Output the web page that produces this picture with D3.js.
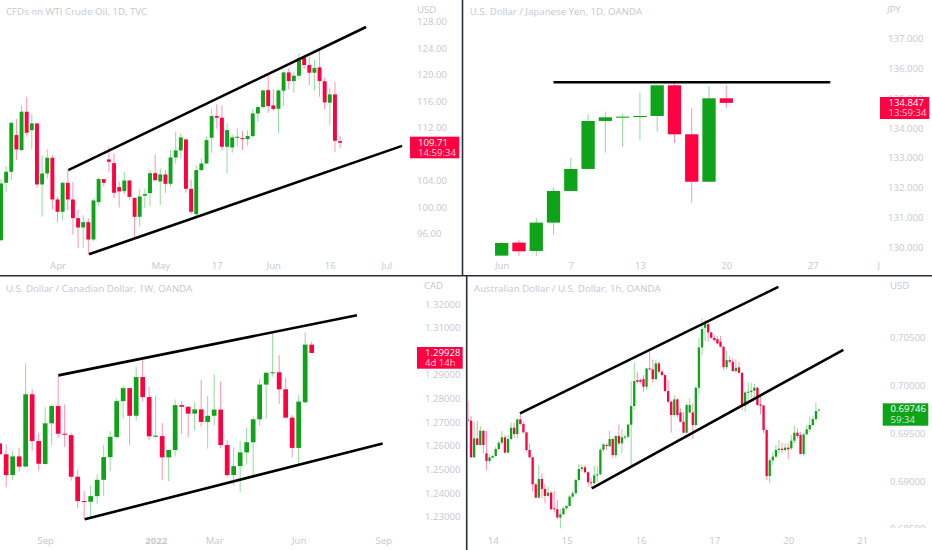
<!DOCTYPE html>
<html><head><meta charset="utf-8">
<script src="https://cdn.jsdelivr.net/npm/d3@7/dist/d3.min.js"></script>
<style>html,body{margin:0;padding:0;background:#fff;overflow:hidden}svg{display:block}
text{font-family:"Open Sans",sans-serif}</style></head><body><div id="c"></div>
<script>
// [open, high, low, close]
const wtiCandles=[
[94.99,104.21,94.89,103.56],[103.66,106.18,102.30,105.32],[105.32,112.73,104.06,112.73],[110.87,113.29,107.09,108.70],[108.60,115.35,108.50,114.40],[114.40,116.66,110.62,111.22],[111.62,114.09,108.75,112.63],[112.63,112.63,102.90,103.41],[103.41,107.79,98.52,105.07],[105.07,108.70,104.32,107.44],
[107.44,107.84,99.63,101.14],[101.14,101.54,97.76,99.28],[99.28,103.86,98.02,103.66],[103.66,105.58,99.53,101.14],[101.14,103.81,95.85,98.32],[98.32,99.63,93.83,96.91],[96.91,98.77,93.88,97.71],[97.71,98.27,92.88,95.09],[95.09,101.29,94.89,100.99],[100.74,104.42,100.13,104.22],
[104.22,104.22,103.16,103.66],[107.19,109.05,105.32,106.84],[106.63,108.10,101.39,102.15],[103.01,103.86,99.93,102.35],[102.40,105.32,101.90,104.01],[104.01,104.06,101.14,101.54],[101.39,101.39,95.50,98.52],[98.52,102.65,97.11,101.59],[101.70,102.80,99.83,101.95],[102.10,105.58,100.18,105.12],
[105.12,107.94,103.81,104.06],[103.86,105.83,100.33,104.92],[104.92,105.58,102.15,103.51],[103.51,108.60,103.06,107.49],[107.49,111.32,106.58,108.55],[108.55,111.12,107.34,110.52],[110.21,110.36,102.15,102.75],[102.75,104.16,98.92,99.28],[98.92,106.33,98.27,105.58],[105.58,107.34,105.48,106.58],
[106.58,110.62,106.43,110.11],[110.46,114.85,108.20,113.74],[113.74,115.50,111.83,113.49],[113.49,115.35,108.50,109.10],[109.10,112.63,105.02,111.62],[109.00,110.92,108.20,110.52],[110.46,111.93,109.20,110.62],[110.41,111.47,108.60,110.26],[110.26,111.62,109.26,110.72],[110.72,114.85,110.52,114.14],
[114.14,115.35,112.88,115.10],[115.10,117.67,114.90,117.62],[117.67,119.94,114.24,115.25],[115.35,117.82,114.50,114.80],[114.85,117.77,111.22,117.62],[117.57,120.44,115.25,120.34],[120.34,120.95,117.77,119.03],[119.03,120.44,117.27,119.84],[119.84,123.22,119.44,122.51],[122.61,122.71,120.85,121.45],
[121.45,122.71,118.43,120.29],[120.29,122.21,117.57,121.00],[121.10,123.72,116.66,119.03],[119.00,119.54,114.75,115.81],[115.76,118.02,112.38,117.02],[117.02,118.98,108.35,110.01],[109.96,110.77,108.85,109.71]];
const jpyCandles=[
[129.72,130.19,129.72,130.145],[130.157,130.246,129.71,129.866],[129.877,130.984,129.71,130.828],[130.828,132.013,130.425,131.89],[131.89,132.998,131.87,132.629],[132.63,134.474,132.595,134.24],[134.24,134.553,133.177,134.362],[134.35,134.474,133.367,134.385],[134.37,135.19,133.59,134.407],[134.407,135.459,133.881,135.436],[135.436,135.58,133.50,133.792],[133.792,134.664,131.5,132.20],[132.2,135.414,132.18,135.0],[135.0,135.436,134.664,134.847]];
const cadCandles=[
[1.2610,1.2610,1.2564,1.2564],[1.2564,1.2606,1.2424,1.2476],[1.2476,1.2579,1.2454,1.2555],[1.2555,1.2591,1.2490,1.2512],[1.2512,1.2949,1.2512,1.2818],[1.2818,1.2840,1.2579,1.2620],[1.2620,1.2653,1.2495,1.2524],[1.2523,1.2763,1.2521,1.2695],[1.2695,1.2774,1.2603,1.2768],[1.2768,1.2897,1.2634,1.2651],
[1.2651,1.2775,1.2595,1.2647],[1.2645,1.2655,1.2452,1.2469],[1.2469,1.2497,1.2335,1.2366],[1.2366,1.2408,1.2289,1.2363],[1.2363,1.2432,1.2300,1.2387],[1.2387,1.2479,1.2354,1.2456],[1.2456,1.2603,1.2389,1.2552],[1.2552,1.2662,1.2493,1.2638],[1.2637,1.2801,1.2631,1.2789],[1.2789,1.2854,1.2715,1.2844],
[1.2844,1.2844,1.2603,1.2727],[1.2727,1.2937,1.2706,1.2891],[1.2891,1.2963,1.2787,1.2806],[1.2806,1.2849,1.2623,1.2640],[1.2638,1.2813,1.2636,1.2643],[1.2641,1.2696,1.2455,1.2551],[1.2551,1.2586,1.2451,1.2582],[1.2582,1.2796,1.2555,1.2772],[1.2772,1.2789,1.2651,1.2765],[1.2765,1.2768,1.2637,1.2736],
[1.2736,1.2785,1.2664,1.2754],[1.2754,1.2878,1.2681,1.2701],[1.2701,1.2811,1.2588,1.2727],[1.2727,1.2902,1.2685,1.2753],[1.2753,1.2871,1.2589,1.2603],[1.2603,1.2624,1.2466,1.2476],[1.2476,1.2593,1.2431,1.2514],[1.2514,1.2620,1.2403,1.2572],[1.2572,1.2677,1.2521,1.2615],[1.2615,1.2725,1.2476,1.2712],
[1.2712,1.2882,1.2685,1.2859],[1.2859,1.2914,1.2715,1.2909],[1.2907,1.3076,1.2892,1.2911],[1.2911,1.2983,1.2778,1.2839],[1.2839,1.2887,1.2719,1.2719],[1.2719,1.2730,1.2551,1.2591],[1.2591,1.2815,1.2519,1.2787],[1.2784,1.3080,1.2781,1.3028],[1.3028,1.3040,1.2993,1.29928]];
const audCandles=[
[.69640,.69835,.69619,.69630],[.69630,.69678,.69244,.69247],[.69247,.69619,.69244,.69445],[.69445,.69626,.69376,.69376],[.69376,.69574,.69369,.69525],[.69525,.69525,.69289,.69376],[.69289,.69522,.69111,.69209],[.69209,.69271,.69181,.69247],[.69244,.69271,.69237,.69261],[.69261,.69358,.69254,.69334],
[.69334,.69417,.69324,.69400],[.69400,.69522,.69376,.69456],[.69456,.69480,.69289,.69296],[.69296,.69480,.69289,.69438],[.69438,.69612,.69428,.69556],[.69556,.69612,.69452,.69490],[.69490,.69654,.69445,.69643],[.69643,.69706,.69584,.69595],[.69595,.69619,.69497,.69508],[.69508,.69515,.69306,.69324],
[.69324,.69393,.69237,.69247],[.69247,.69254,.68889,.68965],[.68965,.68976,.68819,.68826],[.68826,.69167,.68819,.69021],[.69021,.69080,.68826,.68917],[.68917,.68965,.68767,.68844],[.68844,.68941,.68833,.68879],[.68879,.68889,.68698,.68705],[.68715,.68896,.68673,.68705],[.68705,.68802,.68611,.68618],
[.68618,.68705,.68506,.68652],[.68652,.68732,.68646,.68715],[.68715,.68750,.68698,.68739],[.68739,.68854,.68732,.68837],[.68837,.68889,.68819,.68872],[.68872,.69021,.68861,.69011],[.69011,.69178,.69000,.69125],[.69125,.69174,.69098,.69143],[.69143,.69167,.69080,.69091],[.69091,.69098,.68941,.68986],
[.68986,.69028,.68924,.68976],[.68976,.69157,.68965,.69059],[.69059,.69157,.68986,.69070],[.69070,.69341,.69063,.69327],[.69327,.69393,.69306,.69383],[.69376,.69393,.69324,.69369],[.69362,.69522,.69355,.69438],[.69438,.69452,.69244,.69271],[.69271,.69480,.69244,.69470],[.69470,.69591,.69376,.69393],
[.69393,.69543,.69289,.69456],[.69452,.69487,.69438,.69463],[.69463,.69595,.69445,.69588],[.69588,.70043,.69167,.69783],[.69783,.70238,.69741,.70043],[.70054,.70141,.70019,.70036],[.70054,.70071,.70019,.70036],[.70064,.70106,.69932,.69984],[.69984,.70182,.69949,.70175],[.70175,.70349,.70158,.70165],
[.70165,.70269,.70029,.70064],[.70064,.70262,.70054,.70228],[.70228,.70245,.70123,.70141],[.70141,.70158,.70099,.70106],[.70106,.70113,.69932,.69939],[.69939,.70054,.69810,.69828],[.69828,.69835,.69504,.69689],[.69689,.69897,.69671,.69852],[.69852,.69863,.69661,.69689],[.69716,.69758,.69612,.69619],
[.69619,.69723,.69497,.69504],[.69504,.69810,.69497,.69793],[.69716,.69863,.69706,.69793],[.69716,.69810,.69435,.69584],[.69584,.69984,.69567,.69974],[.69974,.70495,.69904,.70394],[.70394,.70697,.70315,.70586],[.70600,.70687,.70461,.70638],[.70638,.70652,.70454,.70551],[.70551,.70558,.70488,.70495],
[.70495,.70523,.70454,.70471],[.70481,.70513,.70429,.70436],[.70454,.70513,.70394,.70401],[.70401,.70412,.70158,.70189],[.70189,.70356,.70165,.70262],[.70262,.70304,.70228,.70245],[.70245,.70280,.70141,.70148],[.70148,.70273,.70134,.70182],[.70186,.70245,.70123,.70130],[.70130,.70130,.69741,.69786],
[.69786,.69939,.69723,.69925],[.69925,.70029,.69793,.69932],[.69928,.70026,.69863,.69942],[.69942,.70016,.69856,.69974],[.69974,.69984,.69786,.69793],[.69800,.69897,.69696,.69786],[.69789,.69793,.69497,.69532],[.69532,.69539,.69011,.69052],[.69052,.69237,.68976,.69216],[.69216,.69306,.69167,.69254],
[.69254,.69376,.69244,.69324],[.69324,.69428,.69289,.69337],[.69337,.69400,.69289,.69324],[.69324,.69393,.69306,.69348],[.69348,.69393,.69226,.69331],[.69341,.69480,.69324,.69421],[.69421,.69574,.69393,.69504],[.69504,.69550,.69445,.69470],[.69480,.69508,.69278,.69282],[.69282,.69497,.69261,.69487],
[.69487,.69584,.69480,.69539],[.69539,.69671,.69515,.69584],[.69584,.69678,.69577,.69647],[.69647,.69821,.69619,.69730],[.69735,.69746,.69735,.69746]];

// drawn trend lines: [[index, price],[index, price]]
const wtiLines=[[[13.1,105.58],[71.05,127.2]],[[17.13,92.88],[78.06,109.24]]];
const jpyLines=[[[3,135.537],[19.02,135.537]]];
const cadLines=[[[9.02,1.2898],[54.97,1.3152]],[[13.08,1.2289],[58.93,1.2610]]];
const audLines=[[[16.9,.69706],[100.8,.71027]],[[40.2,.68924],[121.9,.70370]]];

const wtiPriceTicks=[96,100,104,112,116,120,124,128];
const jpyPriceTicks=[130,131,132,133,134,135,136,137];
const cadPriceTicks=[1.23,1.24,1.25,1.26,1.27,1.28,1.29,1.31,1.32];
const audPriceTicks=[.685,.69,.695,.70,.705];

const wtiTimeTicks=[[11,"Apr"],[31,"May"],[42,"17"],[53,"Jun"],[64,"16"],[75,"Jul"]];
const jpyTimeTicks=[[0,"Jun"],[4,"7"],[8,"13"],[13,"20"],[18,"27"],[21.8,"J"]];
const cadTimeTicks=[[7,"Sep"],[24,"2022"],[33,"Mar"],[46,"Jun"],[59,"Sep"]];
const audTimeTicks=[[8,"14"],[32,"15"],[56,"16"],[80,"17"],[104,"20"],[128,"21"]];

const GREEN="#0fa31a",RED="#ff0040",GREENW="#93dc9a",REDW="#ff93ad",GRAY="#c6c8cf",LINE="#2a2e39";

const panels=[
 {title:"CFDs on WTI Crude Oil, 1D, TVC",tx:6,ty:11.5,unit:"USD",ux:417,uy:9.5,data:wtiCandles,lines:wtiLines,
  xd:[0,66],xr:[1,340.1],yd:[96,128],yr:[233.5,21.7],ticks:wtiPriceTicks,fmt:d3.format(".2f"),time:wtiTimeTicks,axisX:417,axisY:265.7,
  bw:3.9,clip:[0,0,461.5,275],tag:{x:410,y:136.7,w:49.3,h:21.6,a:"109.71",b:"14:59:34",c:RED,tx:418}},
 {title:"U.S. Dollar / Japanese Yen, 1D, OANDA",tx:469.7,ty:11.5,unit:"JPY",ux:887,uy:9.5,data:jpyCandles,lines:jpyLines,
  xd:[0,13],xr:[501.7,726.3],yd:[130,137],yr:[247.3,38.7],ticks:jpyPriceTicks,fmt:d3.format(".3f"),time:jpyTimeTicks,axisX:888,axisY:265.7,
  bw:13.3,clip:[464,0,468,275],tag:{x:880,y:97,w:49.3,h:22,a:"134.847",b:"13:59:34",c:RED,tx:888.5}},
 {title:"U.S. Dollar / Canadian Dollar, 1W, OANDA",tx:6,ty:288.5,unit:"CAD",ux:424,uy:286,data:cadCandles,lines:cadLines,
  xd:[0,48],xr:[-0.33,311.67],yd:[1.23,1.32],yr:[516.67,304],ticks:cadPriceTicks,fmt:d3.format(".5f"),time:cadTimeTicks,axisX:425,axisY:540.7,
  bw:4.7,clip:[0,277,465.5,273],tag:{x:417,y:347,w:45.7,h:21.7,a:"1.29928",b:"4d 14h",c:RED,tx:425}},
 {title:"Australian Dollar / U.S. Dollar, 1h, OANDA",tx:474,ty:288.5,unit:"USD",ux:890,uy:286,data:audCandles,lines:audLines,
  xd:[0,114],xr:[468,819],yd:[.69,.705],yr:[481,337.33],ticks:audPriceTicks,fmt:d3.format(".5f"),time:audTimeTicks,axisX:890,axisY:540.7,
  bw:2.3,clip:[468,277,464,273],tag:{x:882.7,y:403.3,w:45.6,h:22.4,a:"0.69746",b:"59:34",c:GREEN,tx:890.5},priceClip:528}
];

const svg=d3.select("#c").append("svg").attr("width",932).attr("height",550);
svg.append("rect").attr("width",932).attr("height",550).attr("fill","#fff");
const defs=svg.append("defs");

panels.forEach((p,pi)=>{
  const x=d3.scaleLinear().domain(p.xd).range(p.xr);
  const y=d3.scaleLinear().domain(p.yd).range(p.yr);
  defs.append("clipPath").attr("id","cp"+pi).append("rect")
    .attr("x",p.clip[0]).attr("y",p.clip[1]).attr("width",p.clip[2]).attr("height",p.clip[3]);
  const g=svg.append("g").attr("clip-path",`url(#cp${pi})`);

  // price axis
  const ya=d3.axisRight(y).tickValues(p.ticks).tickFormat(p.fmt).tickSize(0).tickPadding(0);
  const ag=g.append("g").attr("transform",`translate(${p.axisX},0)`).call(ya);
  ag.select(".domain").remove();
  ag.selectAll("text").attr("fill",GRAY).attr("font-size",9.6).attr("x",0);
  if(p.priceClip){
    defs.append("clipPath").attr("id","pc"+pi).append("rect").attr("x",-5).attr("y",277).attr("width",60).attr("height",p.priceClip-277);
    ag.attr("clip-path",`url(#pc${pi})`);
  }
  // time axis
  const xa=d3.axisBottom(x).tickValues(p.time.map(d=>d[0])).tickFormat((d,i)=>p.time[i][1]).tickSize(0).tickPadding(0);
  const tg=g.append("g").attr("transform",`translate(0,${p.axisY})`).call(xa);
  tg.select(".domain").remove();
  tg.selectAll("text").attr("fill",GRAY).attr("font-size",9.6).attr("dy",".35em").attr("y",0)
    .attr("font-weight",d=>p.time.find(t=>t[0]===d)[1]==="2022"?700:400);

  // candles
  const c=g.append("g").selectAll("g").data(p.data).join("g");
  c.append("line").attr("x1",(d,i)=>x(i)).attr("x2",(d,i)=>x(i))
    .attr("y1",d=>y(d[1])).attr("y2",d=>y(d[2])).attr("stroke-width",1)
    .attr("stroke",d=>d[3]>=d[0]?GREENW:REDW);
  c.append("rect").attr("x",(d,i)=>x(i)-p.bw/2).attr("width",p.bw)
    .attr("y",d=>Math.min(y(d[0]),y(d[3])))
    .attr("height",d=>Math.max(1,Math.abs(y(d[0])-y(d[3]))))
    .attr("fill",d=>d[3]>=d[0]?GREEN:RED);

  // trend lines
  const ln=d3.line().x(d=>x(d[0])).y(d=>y(d[1]));
  g.append("g").selectAll("path").data(p.lines).join("path")
    .attr("d",ln).attr("fill","none").attr("stroke","#000").attr("stroke-width",2.6);

  // last price tag
  const t=p.tag;
  svg.append("rect").attr("x",t.x).attr("y",t.y).attr("width",t.w).attr("height",t.h).attr("fill",t.c);
  svg.append("text").attr("x",t.tx).attr("y",t.y+5.6).attr("dy",".35em").attr("fill","#fff").attr("font-size",9.6).text(t.a);
  svg.append("text").attr("x",t.tx).attr("y",t.y+16).attr("dy",".35em").attr("fill","#fff").attr("fill-opacity",.8).attr("font-size",9.6).text(t.b);

  // headers
  svg.append("text").attr("x",p.tx).attr("y",p.ty).attr("dy",".35em").attr("fill",GRAY).attr("font-family","Roboto").attr("font-size",9.7).attr("font-weight",500).text(p.title);
  svg.append("text").attr("x",p.ux).attr("y",p.uy).attr("dy",".35em").attr("fill",GRAY).attr("font-size",9.6).text(p.unit);
});

// panel separators
const seps=[[0,275.7,932,275.7],[462.5,0,462.5,275.7],[466.7,275.7,466.7,550]];
svg.selectAll("line.sep").data(seps).join("line").attr("class","sep")
  .attr("x1",d=>d[0]).attr("y1",d=>d[1]).attr("x2",d=>d[2]).attr("y2",d=>d[3])
  .attr("stroke",LINE).attr("stroke-width",1.6);
</script></body></html>
